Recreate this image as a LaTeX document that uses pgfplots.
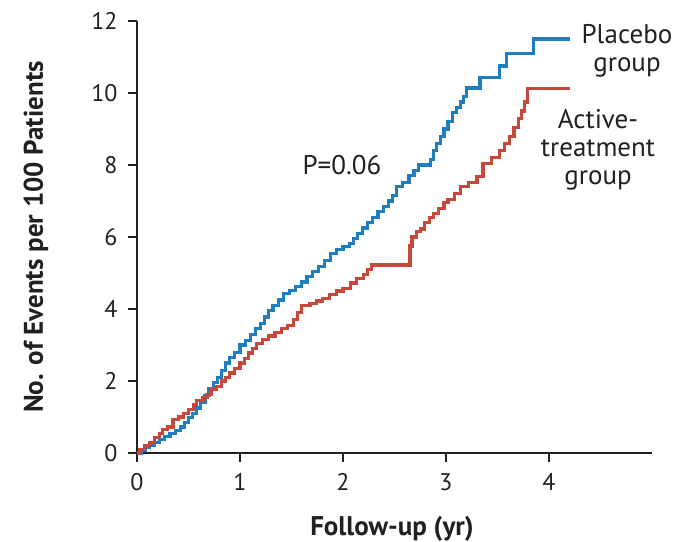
\documentclass[border=0pt]{standalone}
\usepackage{fontspec}
\setmainfont{PT Sans}
\usepackage{pgfplots}
\pgfplotsset{compat=1.18}
\definecolor{placeboblue}{HTML}{1F7DC1}
\definecolor{activered}{HTML}{C8473B}
\definecolor{inkgray}{HTML}{231F20}

\begin{document}
\begin{tikzpicture}
\begin{axis}[
    scale only axis,
    width=515pt, height=432pt,
    xmin=0, xmax=5, ymin=0, ymax=12,
    axis x line=bottom, axis y line=left,
    axis line style={-, inkgray, line width=1.6pt},
    xtick={0,1,2,3,4}, ytick={0,2,4,6,8,10,12},
    tick align=outside, major tick length=9pt,
    tick style={inkgray, line width=1.6pt},
    /pgf/number format/assume math mode=true,
    ticklabel style={font=\fontsize{24}{26}\selectfont, text=inkgray},
    xticklabel style={yshift=-8pt},
    yticklabel style={xshift=-7pt},
    xlabel={\bfseries Follow-up (yr)},
    ylabel={\bfseries No. of Events per 100 Patients},
    label style={font=\fontsize{27}{30}\selectfont, text=inkgray},
    xlabel style={at={(axis cs:2.476,-2.278)}, anchor=base},
    ylabel style={at={(axis cs:-0.913,6.0)}, anchor=base, rotate=0},
    clip=false,
]
\addplot[const plot, placeboblue, line width=3.2pt] coordinates {
    (0,0) (0.04,0.08) (0.08,0.15) (0.12,0.22) (0.17,0.3) (0.22,0.38)
    (0.27,0.46) (0.32,0.55) (0.37,0.62) (0.42,0.72) (0.46,0.85) (0.5,0.98)
    (0.54,1.1) (0.58,1.25) (0.62,1.4) (0.66,1.6) (0.7,1.78) (0.74,1.95)
    (0.78,2.1) (0.82,2.3) (0.86,2.5) (0.9,2.65) (0.95,2.8) (1.0,3.0)
    (1.05,3.12) (1.1,3.3) (1.15,3.45) (1.2,3.6) (1.24,3.78) (1.28,3.95)
    (1.32,4.1) (1.37,4.25) (1.42,4.42) (1.48,4.52) (1.54,4.62) (1.6,4.75)
    (1.65,4.9) (1.7,5.05) (1.76,5.18) (1.82,5.35) (1.88,5.55) (1.94,5.65)
    (2.0,5.73) (2.06,5.82) (2.1,5.95) (2.14,6.1) (2.19,6.25) (2.24,6.4)
    (2.29,6.55) (2.34,6.7) (2.39,6.85) (2.44,7.0) (2.48,7.15) (2.52,7.4)
    (2.58,7.52) (2.64,7.7) (2.69,7.85) (2.73,8.0) (2.85,8.15) (2.88,8.4)
    (2.91,8.6) (2.95,8.8) (2.98,9.0) (3.02,9.2) (3.06,9.45) (3.1,9.6)
    (3.14,9.75) (3.17,9.9) (3.2,10.14) (3.33,10.42) (3.52,10.75) (3.59,11.1)
    (3.85,11.5) (4.2,11.5)
};
\addplot[const plot, activered, line width=3.2pt] coordinates {
    (0,0) (0.03,0.1) (0.07,0.2) (0.12,0.3) (0.17,0.42) (0.22,0.55)
    (0.25,0.65) (0.3,0.72) (0.35,0.92) (0.4,1.0) (0.45,1.1) (0.5,1.2)
    (0.55,1.35) (0.58,1.45) (0.64,1.55) (0.68,1.62) (0.72,1.78) (0.77,1.85)
    (0.82,2.0) (0.86,2.1) (0.9,2.22) (0.95,2.35) (1.0,2.5) (1.04,2.62)
    (1.08,2.78) (1.12,2.9) (1.16,3.05) (1.22,3.15) (1.28,3.25) (1.34,3.35)
    (1.4,3.45) (1.46,3.55) (1.52,3.7) (1.56,3.9) (1.6,4.1) (1.68,4.15)
    (1.74,4.22) (1.8,4.3) (1.87,4.4) (1.94,4.5) (2.0,4.58) (2.07,4.72)
    (2.13,4.85) (2.2,4.95) (2.24,5.1) (2.28,5.22) (2.65,5.75) (2.67,6.0)
    (2.71,6.15) (2.75,6.22) (2.79,6.4) (2.84,6.55) (2.88,6.66) (2.93,6.8)
    (2.98,6.95) (3.02,7.05) (3.08,7.2) (3.14,7.4) (3.22,7.52) (3.3,7.68)
    (3.36,8.05) (3.44,8.2) (3.52,8.4) (3.57,8.6) (3.62,8.8) (3.66,9.05)
    (3.7,9.3) (3.73,9.5) (3.76,9.75) (3.79,10.13) (4.2,10.13)
};
\node[font=\fontsize{27}{30}\selectfont, text=inkgray] at (axis cs:1.99,8.0) {P=0.06};
\node[font=\fontsize{27}{28}\selectfont, text=inkgray, align=center]
    at (axis cs:4.757,11.17) {Placebo\\group};
\node[font=\fontsize{27}{28}\selectfont, text=inkgray, align=center]
    at (axis cs:4.476,8.42) {Active-\\treatment\\group};
\coordinate (bl) at (axis cs:-1.330,-2.472);
\coordinate (tr) at (axis cs:5.262,12.583);
\end{axis}
\pgfresetboundingbox
\path[use as bounding box] (bl) rectangle (tr);
\end{tikzpicture}
\end{document}
